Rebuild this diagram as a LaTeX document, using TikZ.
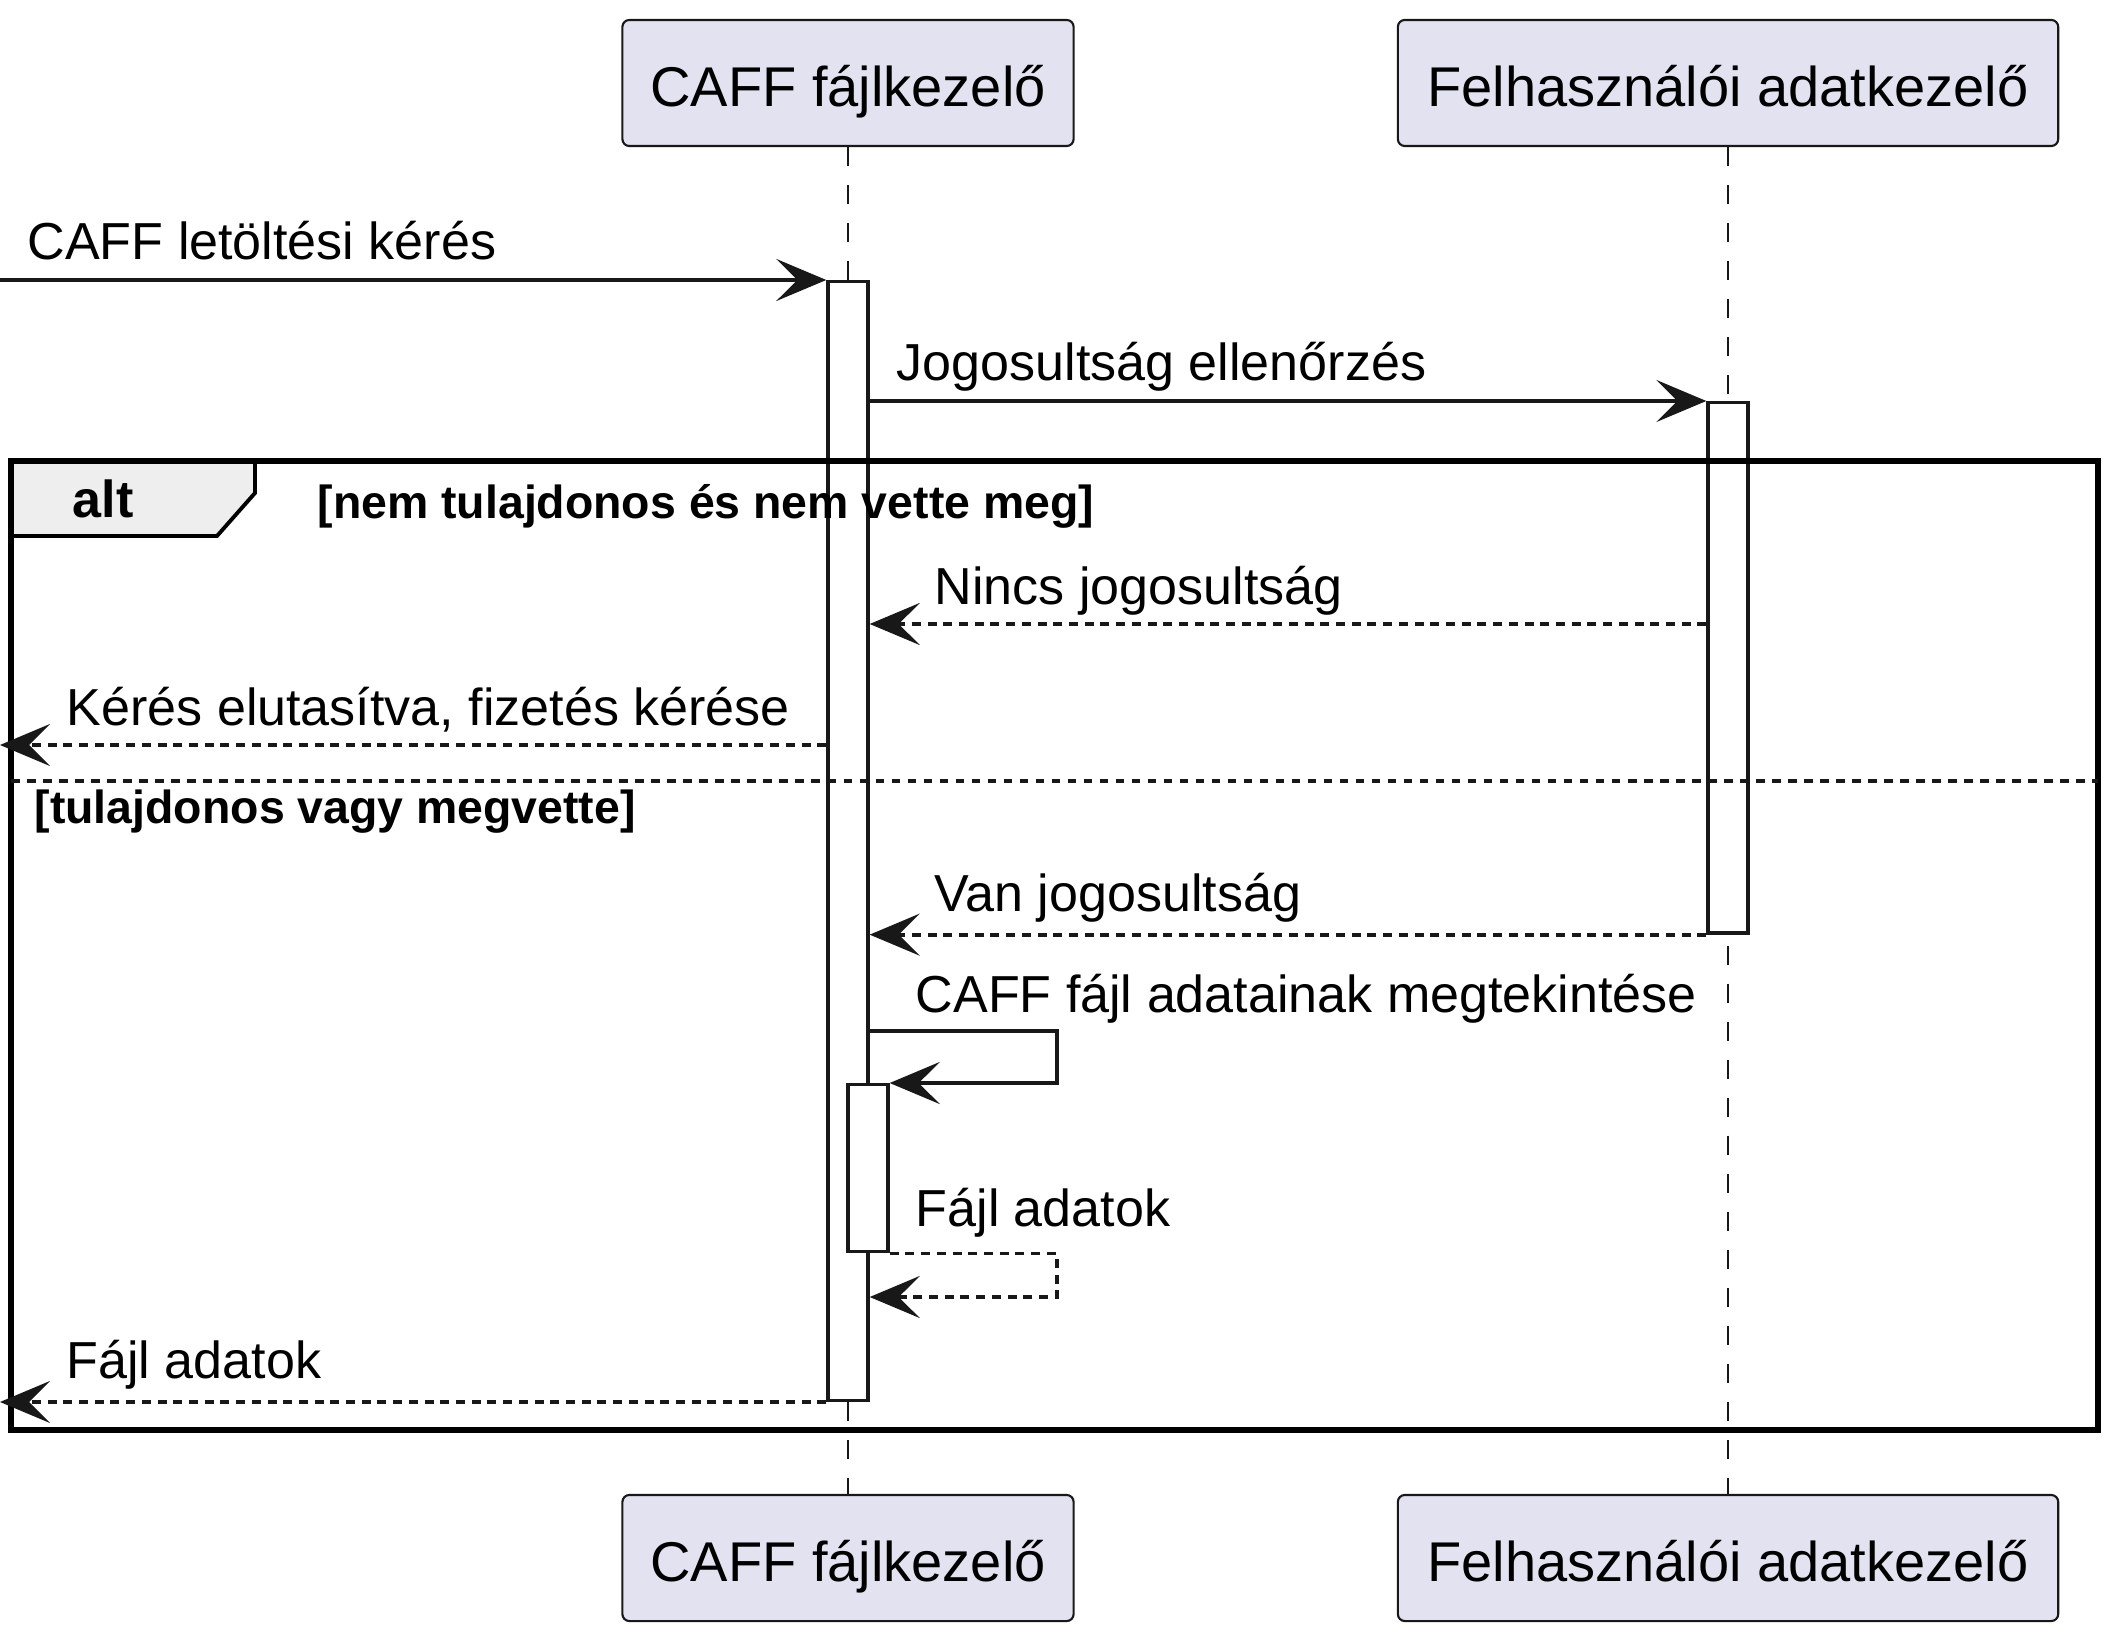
\documentclass[tikz,border=0pt]{standalone}
\usepackage{fontspec}
\setmainfont{Liberation Sans}
\usetikzlibrary{arrows.meta}
\definecolor{seqline}{RGB}{24,24,24}
\definecolor{seqlavender}{RGB}{226,226,240}
\definecolor{seqgray}{RGB}{238,238,238}

\begin{document}
\begin{tikzpicture}[
  x=0.01cm, y=-0.01cm,
  participant/.style={rectangle, rounded corners=0.07cm, draw=seqline, line width=0.6pt, fill=seqlavender, minimum height=1.26cm, inner sep=0pt, text height=0.56cm, text depth=0.10cm, font=\fontsize{15.93}{19}\selectfont},
  actbar/.style={rectangle, draw=seqline, fill=white, line width=0.95pt, minimum width=0.4cm, inner sep=0pt, anchor=north},
  lifeline/.style={draw=seqline, line width=0.5pt, dash pattern=on 0.19cm off 0.19cm},
  msg/.style={-{Stealth[length=0.5cm, width=0.42cm, inset=0.21cm]}, draw=seqline, line width=1.1pt},
  reply/.style={msg, dash pattern=on 0.09cm off 0.067cm},
  msgtext/.style={anchor=base west, inner sep=0pt, font=\fontsize{14.8}{18}\selectfont},
  guard/.style={anchor=base west, inner sep=0pt, font=\fontsize{13.2}{16}\selectfont\bfseries},
  altframe/.style={draw=black, line width=1.6pt},
  sepline/.style={draw=seqline, line width=1.1pt, dash pattern=on 0.085cm off 0.075cm}
]
\useasboundingbox (0,0) rectangle (2122,1640);

% Participants
\node[participant, minimum width=4.51cm] (caffTop) at (848,83) {CAFF fájlkezelő};
\node[participant, minimum width=6.60cm] (userTop) at (1728,83) {Felhasználói adatkezelő};
\node[participant, minimum width=4.51cm] (caffBot) at (848,1558) {CAFF fájlkezelő};
\node[participant, minimum width=6.60cm] (userBot) at (1728,1558) {Felhasználói adatkezelő};

% Lifelines
\draw[lifeline] (caffTop) -- (caffBot);
\draw[lifeline] (userTop) -- (userBot);

% Activations
\node[actbar, minimum height=11.18cm] (barCaff) at (848,280) {};
\node[actbar, minimum height=5.30cm] (barUser) at (1728,401) {};
\node[actbar, minimum height=1.67cm] (barNested) at (868,1083) {};

% alt frame
\draw[draw=black, line width=1.1pt, fill=seqgray] (11,461) -- (255,461) -- (255,493) -- (217,536) -- (11,536) -- cycle;
\draw[altframe] (11,461) rectangle (2098,1430);
\draw[sepline] (11,781) -- (2098,781);
\node[anchor=base west, inner sep=0pt, font=\fontsize{14.8}{18}\selectfont\bfseries] (altTag) at (72,518) {alt};
\node[guard] (guardNo) at (317,519) {[nem tulajdonos és nem vette meg]};
\node[guard] (guardYes) at (34,823) {[tulajdonos vagy megvette]};

% Message heights
\coordinate (leftEdge) at (0,0);
\coordinate (denyY) at (0,624);
\coordinate (rejectY) at (0,745);
\coordinate (loopEnd) at (1057,1031);
\coordinate (backY) at (0,1297);

% Messages
\draw[msg] (leftEdge |- barCaff.north) -- (barCaff.north west);
\draw[msg] (barCaff.east |- barUser.north) -- (barUser.north west);
\draw[reply] (barUser.west |- denyY) -- (barCaff.east |- denyY);
\draw[reply] (barCaff.west |- rejectY) -- (leftEdge |- rejectY);
\draw[reply] (barUser.south west) -- (barCaff.east |- barUser.south);
\draw[msg] (barCaff.east |- loopEnd) -- (loopEnd) |- (barNested.north east);
\draw[reply] (barNested.south east) -- (loopEnd |- barNested.south) |- (barCaff.east |- backY);
\draw[reply] (barCaff.south west) -- (leftEdge |- barCaff.south);

% Labels
\node[msgtext] (reqText) at (27,260) {CAFF letöltési kérés};
\node[msgtext] (checkText) at (896,381) {Jogosultság ellenőrzés};
\node[msgtext] (denyText) at (934,604) {Nincs jogosultság};
\node[msgtext] (rejectText) at (66,725) {Kérés elutasítva, fizetés kérése};
\node[msgtext] (grantText) at (934,911) {Van jogosultság};
\node[msgtext] (viewText) at (915,1012) {CAFF fájl adatainak megtekintése};
\node[msgtext] (dataText) at (915,1226) {Fájl adatok};
\node[msgtext] (dataOutText) at (66,1378) {Fájl adatok};

\end{tikzpicture}
\end{document}
